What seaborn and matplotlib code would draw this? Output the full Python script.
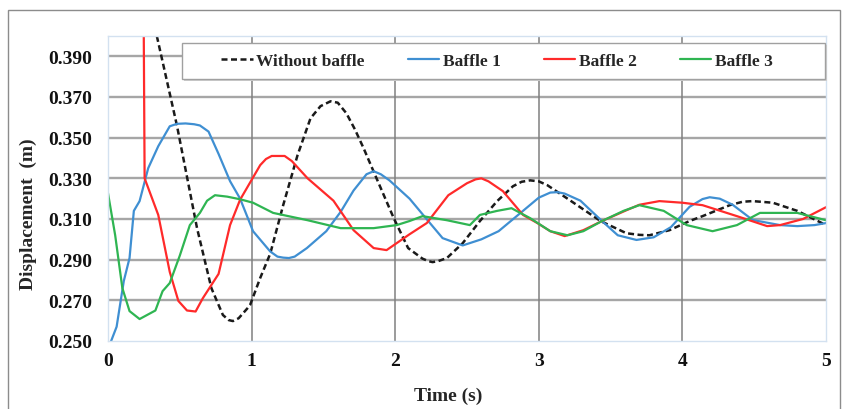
import seaborn as sns
import matplotlib.pyplot as plt
from matplotlib.patches import Rectangle
import pandas as pd
import numpy as np

# ---- data ----
t_none = [0.00, 0.20, 0.34, 0.48, 0.62, 0.72, 0.80, 0.84, 0.87, 0.91, 0.97, 0.99, 1.06, 1.13, 1.22, 1.32,
          1.41, 1.48, 1.55, 1.60, 1.66, 1.72, 1.78, 1.87, 1.99, 2.09, 2.19, 2.23, 2.26, 2.30, 2.36,
          2.47, 2.59, 2.71, 2.82, 2.88, 2.94, 3.00, 3.06, 3.20, 3.43, 3.61, 3.70, 3.77, 3.91, 4.05,
          4.14, 4.33, 4.42, 4.49, 4.63, 4.80, 5.00]
v_none = [0.490, 0.442, 0.400, 0.356, 0.3055, 0.276, 0.2628, 0.2603, 0.2598, 0.2612, 0.266, 0.2678, 0.281,
          0.293, 0.3168, 0.3414, 0.3595, 0.3655, 0.3679, 0.3672, 0.362, 0.354, 0.3448, 0.330, 0.3104,
          0.2957, 0.2905, 0.2893, 0.2888, 0.2893, 0.2908, 0.2981, 0.309, 0.3188, 0.3261, 0.3283, 0.329,
          0.3285, 0.3266, 0.320, 0.309, 0.303, 0.3022, 0.302, 0.3045, 0.309, 0.3114, 0.3168, 0.3185,
          0.3188, 0.318, 0.314, 0.307]

t_b1 = [0.00, 0.03, 0.06, 0.11, 0.15, 0.18, 0.22, 0.28, 0.35, 0.43, 0.48, 0.54, 0.60, 0.64, 0.70, 0.77,
        0.85, 0.92, 1.01, 1.13, 1.18, 1.22, 1.26, 1.30, 1.385, 1.52, 1.62, 1.71, 1.80, 1.85, 1.90,
        1.96, 2.10, 2.23, 2.33, 2.47, 2.60, 2.72, 2.89, 3.00, 3.08, 3.13, 3.18, 3.29, 3.44, 3.55, 3.68,
        3.80, 3.92, 4.05, 4.14, 4.19, 4.26, 4.35, 4.49, 4.68, 4.80, 4.92, 5.00]
v_b1 = [0.246, 0.2515, 0.257, 0.2795, 0.2908, 0.314, 0.3188, 0.335, 0.3458, 0.3556, 0.3568, 0.357, 0.3566,
        0.356, 0.353, 0.342, 0.3286, 0.320, 0.304, 0.294, 0.2915, 0.291, 0.2908, 0.2915, 0.2957, 0.304,
        0.3135, 0.324, 0.332, 0.3335, 0.332, 0.329, 0.320, 0.309, 0.3006, 0.297, 0.300, 0.304, 0.314,
        0.3205, 0.323, 0.3232, 0.3225, 0.319, 0.309, 0.302, 0.2997, 0.301, 0.306, 0.316, 0.3198, 0.3207,
        0.320, 0.317, 0.3095, 0.307, 0.3065, 0.307, 0.308]

t_b2 = [0.00, 0.245, 0.255, 0.35, 0.43, 0.49, 0.55, 0.61, 0.66, 0.77, 0.85, 0.92, 1.06, 1.10, 1.14, 1.23,
        1.28, 1.39, 1.57, 1.71, 1.85, 1.94, 2.10, 2.22, 2.37, 2.50, 2.56, 2.60, 2.65, 2.75, 2.89,
        2.99, 3.08, 3.18, 3.31, 3.44, 3.61, 3.70, 3.84, 4.00, 4.14, 4.38, 4.59, 4.68, 4.84, 5.00]
v_b2 = [0.480, 0.450, 0.330, 0.312, 0.284, 0.2697, 0.265, 0.2645, 0.271, 0.283, 0.307, 0.3195, 0.3365,
        0.3395, 0.341, 0.341, 0.3385, 0.330, 0.319, 0.3045, 0.2957, 0.2947, 0.3025, 0.308, 0.3217,
        0.3276, 0.3295, 0.330, 0.3285, 0.3237, 0.312, 0.308, 0.304, 0.3016, 0.3045, 0.309, 0.3143,
        0.317, 0.3188, 0.318, 0.3168, 0.3114, 0.3065, 0.307, 0.310, 0.3158]

t_b3 = [0.00, 0.05, 0.10, 0.15, 0.22, 0.33, 0.38, 0.43, 0.50, 0.57, 0.64, 0.69, 0.745, 0.83, 0.92, 1.01,
        1.15, 1.39, 1.62, 1.85, 2.01, 2.10, 2.19, 2.36, 2.52, 2.59, 2.71, 2.81, 2.94, 3.08, 3.20,
        3.31, 3.44, 3.59, 3.70, 3.87, 4.03, 4.21, 4.38, 4.54, 4.80, 5.00]
v_b3 = [0.3227, 0.302, 0.276, 0.2647, 0.2608, 0.265, 0.2745, 0.2785, 0.292, 0.307, 0.313, 0.319, 0.3217,
        0.321, 0.3197, 0.318, 0.313, 0.3094, 0.3055, 0.3055, 0.307, 0.309, 0.3114, 0.3094, 0.307,
        0.312, 0.314, 0.3153, 0.3104, 0.304, 0.302, 0.304, 0.309, 0.314, 0.3168, 0.314, 0.307, 0.304,
        0.307, 0.313, 0.313, 0.3094]

names = ["Without baffle", "Baffle 1", "Baffle 2", "Baffle 3"]
colors = ["#1a1a1a", "#3f8fd2", "#ff2a2a", "#2fb552"]
y_ticks = [0.25, 0.27, 0.29, 0.31, 0.33, 0.35, 0.37, 0.39]
x_ticks = [0, 1, 2, 3, 4, 5]

series = [(t_none, v_none), (t_b1, v_b1), (t_b2, v_b2), (t_b3, v_b3)]

sns.set_style("white")
plt.rcParams['font.family'] = ['Liberation Serif', 'DejaVu Serif']
plt.rcParams['font.weight'] = 'bold'

fig = plt.figure(figsize=(8.45, 4.10), dpi=100)
ax = fig.add_axes([108 / 845, 1 - 342 / 410, 718 / 845, 305 / 410])

for (t, v), name, c in zip(series, names, colors):
    df = pd.DataFrame({"t": t, "v": v})
    sns.lineplot(data=df, x="t", y="v", ax=ax, color=c, lw=1.6, label=name,
                 estimator=None, sort=False, legend=False)
ax.lines[0].set_linewidth(1.8)
ax.lines[0].set_dashes((2.4, 1.4))

ax.set_xlim(0, 5)
ax.set_ylim(0.25, 0.40)
ax.set_xticks(x_ticks)
ax.set_xticklabels([str(x) for x in x_ticks])
ax.set_yticks(y_ticks)
ax.set_yticklabels(["%.3f" % y for y in y_ticks])
ax.tick_params(length=0, labelsize=14, colors="#111111")
ax.tick_params(axis="y", pad=11.5)
ax.tick_params(axis="x", pad=8)

ax.grid(False)
for y in y_ticks[1:]:
    ax.axhline(y, color="#a6a6a6", lw=1.7, zorder=0.5)
for x in x_ticks[1:-1]:
    ax.axvline(x, color="#808080", lw=1.1, zorder=0.5)
for s in ax.spines.values():
    s.set_color("#d3e1f0")
    s.set_linewidth(1.0)

ax.set_xlabel("Time (s)", fontsize=14, fontweight="bold")
ax.set_ylabel("Displacement  (m)", fontsize=14, fontweight="bold")
ax.xaxis.set_label_coords(0.4735, -0.15)
ax.yaxis.set_label_coords(-0.099, 0.42)

# legend box (drawn separately so it can be wider than its content)
ax.add_patch(Rectangle((0.103 + 0.003, 0.859 - 0.007), 0.896, 0.118, transform=ax.transAxes,
                       fc="#cfcfcf", ec="none", zorder=4.9, clip_on=False))
ax.add_patch(Rectangle((0.103, 0.859), 0.896, 0.118, transform=ax.transAxes,
                       fc="white", ec="#a0a0a0", lw=1.0, zorder=5, clip_on=False))
leg = ax.legend(handles=ax.lines[:4], labels=names, ncol=4, frameon=False, loc="center",
                bbox_to_anchor=(0.5418, 0.918), handlelength=1.8, handletextpad=0.2,
                columnspacing=2.5, prop={"size": 12.5, "weight": "bold"})
leg.set_zorder(6)

# outer chart border
fig.patches.append(Rectangle((8 / 845, -0.02), 832 / 845, 1.02 - 11 / 410, transform=fig.transFigure,
                             fill=False, ec="#8c8c8c", lw=1.0))

plt.savefig("out.png", dpi=100)
plt.close()
